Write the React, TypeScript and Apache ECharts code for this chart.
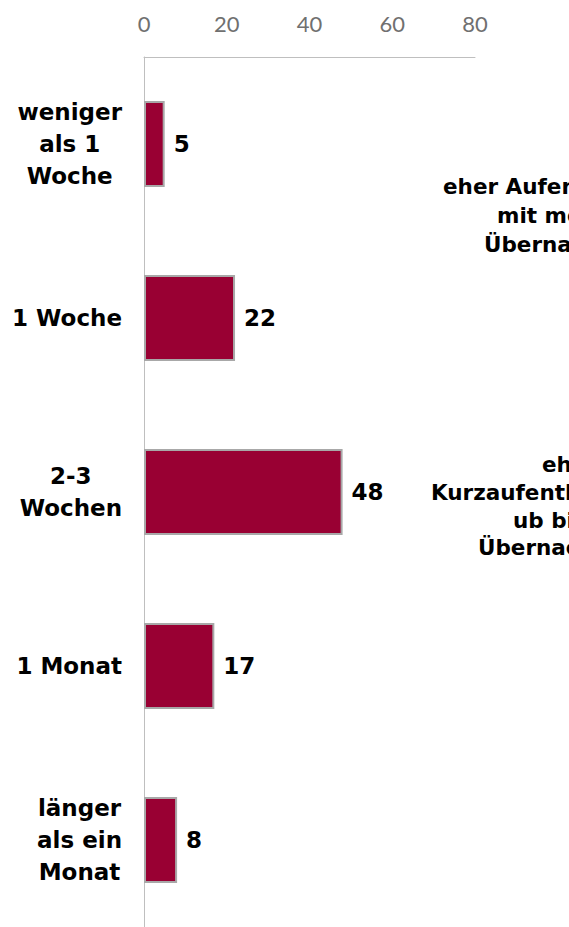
import React, { useEffect, useRef } from "react";
import * as echarts from "echarts";

const categories = [
  "weniger\nals 1\nWoche",
  "1 Woche",
  "2-3\nWochen",
  "1 Monat",
  "länger\nals ein\nMonat",
];
const values = [5, 22, 48, 17, 8];
const xTicks = [0, 20, 40, 60, 80];

const noteLong = ["eher Aufenthalte", "mit mehreren", "Übernachtungen"];
const noteShort = ["eher", "Kurzaufenthalte/Urla", "ub bis zu 3", "Übernachtungen"];

export default function App() {
  const ref = useRef<HTMLDivElement>(null);
  useEffect(() => {
    if (!ref.current) return;
    const chart = echarts.init(ref.current, null, { renderer: "svg" });
    const noteFont = {
      fontFamily: "DejaVu Sans",
      fontWeight: "bold",
      fontSize: 21.5,
      fill: "#000",
    };
    const longX = [443, 497, 484];
    const longY = [186, 215, 244];
    const shortX = [542, 431, 513, 478];
    const shortY = [464, 492, 520, 547];
    const graphics: any[] = [];
    noteLong.forEach((t, i) =>
      graphics.push({
        type: "text",
        x: longX[i],
        y: longY[i],
        style: { ...noteFont, text: t, textAlign: "left", textVerticalAlign: "middle" },
      })
    );
    noteShort.forEach((t, i) =>
      graphics.push({
        type: "text",
        x: shortX[i],
        y: shortY[i],
        style: { ...noteFont, text: t, textAlign: "left", textVerticalAlign: "middle" },
      })
    );
    chart.setOption({
      animation: false,
      backgroundColor: "#ffffff",
      grid: { left: 144, right: 94, top: 57, bottom: 0, containLabel: false },
      xAxis: {
        type: "value",
        position: "top",
        min: xTicks[0],
        max: xTicks[xTicks.length - 1],
        interval: xTicks[1] - xTicks[0],
        axisLine: { show: true, lineStyle: { color: "#bfbfbf", width: 1 } },
        axisTick: { show: false },
        splitLine: { show: false },
        axisLabel: {
          color: "#707070",
          fontFamily: "Lato",
          fontSize: 22,
          margin: 23,
        },
      },
      yAxis: {
        type: "category",
        inverse: true,
        data: categories,
        axisLine: { show: true, lineStyle: { color: "#bfbfbf", width: 1 } },
        axisTick: { show: false },
        splitLine: { show: false },
        axisLabel: {
          align: "right",
          margin: 22,
          formatter: (v: string) => `{a|${v}}`,
          rich: {
            a: {
              align: "center",
              fontFamily: "DejaVu Sans",
              fontWeight: "bold",
              fontSize: 23,
              lineHeight: 32,
              color: "#000",
            },
          },
        },
      },
      series: [
        {
          type: "bar",
          data: values,
          barWidth: 86,
          itemStyle: { color: "#990033", borderColor: "#a8a8a8", borderWidth: 2 },
          label: {
            show: true,
            position: "right",
            distance: 9,
            color: "#000",
            fontFamily: "DejaVu Sans",
            fontWeight: "bold",
            fontSize: 23,
          },
        },
      ],
      graphic: graphics,
    });
    return () => chart.dispose();
  }, []);
  return (
    <div
      ref={ref}
      style={{ position: "fixed", left: 0, top: 0, width: 569, height: 927 }}
    />
  );
}
